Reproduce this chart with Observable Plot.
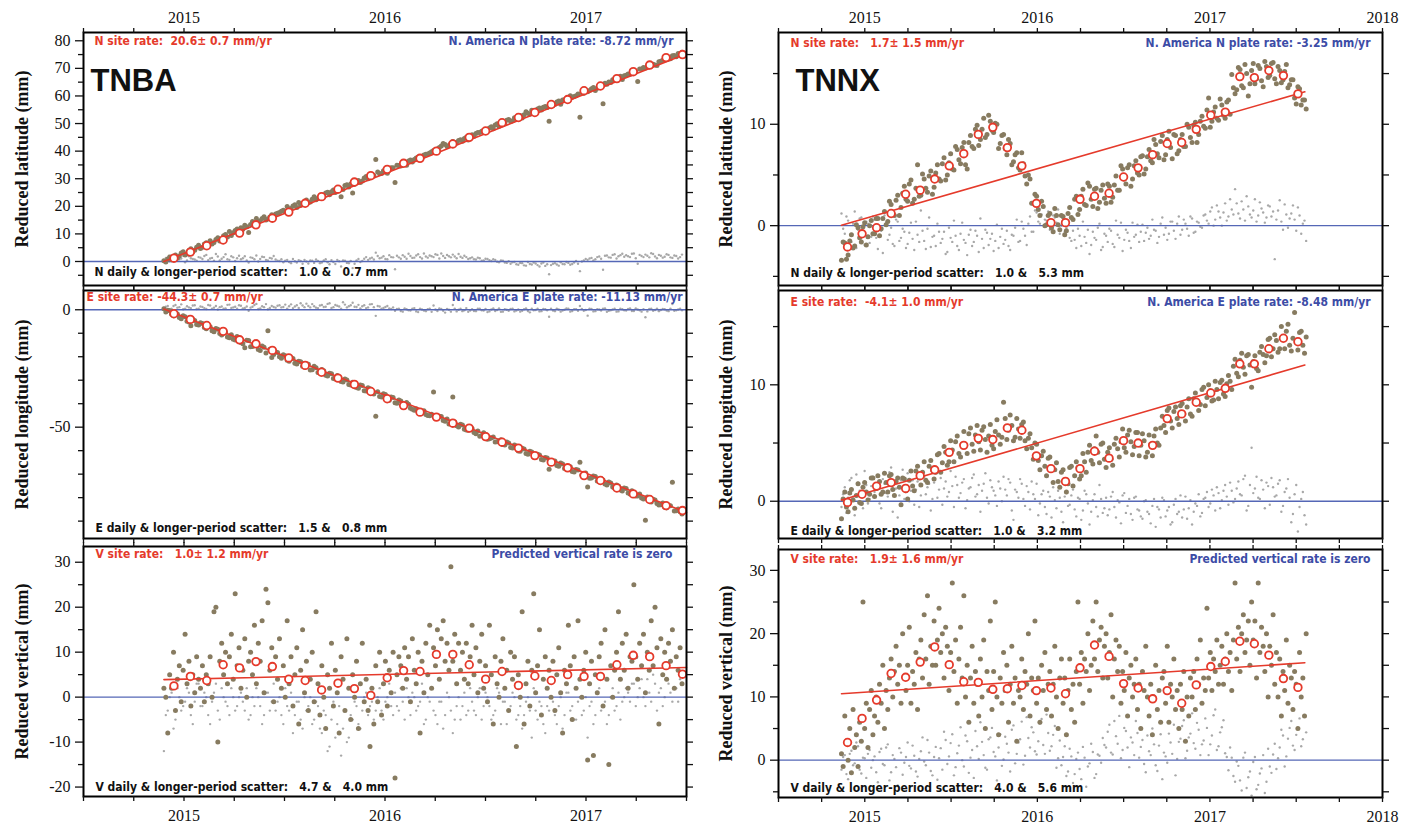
<!DOCTYPE html>
<html><head><meta charset="utf-8">
<script src="https://cdn.jsdelivr.net/npm/d3@7"></script>
<script src="https://cdn.jsdelivr.net/npm/@observablehq/plot@0.6"></script>
<style>
html,body{margin:0;padding:0;background:#fff;}
#wrap{position:relative;width:1406px;height:829px;background:#fff;overflow:hidden;}
#wrap svg{position:absolute;left:0;top:0;}
svg text{white-space:pre;}
</style></head><body><div id="wrap"></div>
<script>
// ---------------- DATA ----------------
// Station TNBA (left column). Brown: daily positions sampled twice a week (two offset weekly lists); grey: residual scatter.
const TNBA_start = 2014.90;
const TNBA_N_brown = [0.3,0.9,0.6,2.4,2.0,3.5,2.8,4.6,4.1,5.9, 5.2,6.8,7.5,6.9,8.6,8.0,9.8,10.9,10.4,11.8, 12.2,13.1,10.5,14.5,15.6,14.8,16.2,15.4,16.9,17.2, 17.8,18.6,19.9,19.2,20.6,21.4,20.9,22.3,21.6,23.5, 22.9,24.1,24.8,24.2,25.9,26.4,23.5,27.5,27.0,24.8, 29.1,28.6,30.3,30.0,31.4,37.0,31.8,32.9,32.0,34.0, 28.6,34.8,35.6,34.9,36.8,37.0,37.9,37.6,38.9,39.3, 40.2,40.8,41.9,42.4,42.0,43.5,43.2,44.1,44.6,44.0, 45.9,46.4,46.8,47.6,47.2,48.8,49.5,49.0,50.6,51.2, 50.7,52.1,51.6,52.0,54.3,53.4,54.1,55.3,54.9,56.2, 50.8,56.5,57.8,57.0,58.6,59.2,59.5,60.1,52.3,61.0, 61.5,62.6,62.0,63.1,57.2,64.2,64.9,65.6,66.3,66.0, 67.5,67.9,68.6,65.2,69.8,70.1,70.6,71.5,71.0,72.6, 73.1,73.4,74.6,74.2,75.3];
const TNBA_N_brown2 = [-0.2,1.6,1.0,1.3,3.1,2.4,4.0,3.5,5.2,4.7, 6.3,5.9,6.3,8.0,7.4,9.3,8.9,9.4,11.2,10.6, 11.7,12.6,13.4,13.0,14.3,15.6,15.0,16.1,16.3,17.5, 18.2,18.0,19.0,20.1,19.6,20.4,21.7,21.3,22.6,22.4, 23.6,23.4,25.1,25.3,25.0,26.6,26.1,27.8,28.1,28.0, 29.4,29.2,30.8,30.6,31.2,32.4,31.9,33.2,33.6,34.0, 34.9,34.6,35.9,36.4,36.1,37.5,37.2,38.6,39.0,39.8, 40.5,41.3,42.8,41.7,42.9,42.6,43.9,43.6,45.0,45.2, 45.4,46.8,47.2,47.1,48.4,48.1,49.9,50.1,50.0,51.5, 51.0,51.8,52.9,53.2,53.7,54.8,54.4,55.6,55.9,55.8, 57.2,57.0,58.2,58.5,59.0,60.1,59.8,60.7,61.2,61.9, 62.0,63.1,62.8,64.0,64.6,65.1,65.9,66.0,67.1,67.3, 68.0,68.9,68.7,69.8,70.3,70.6,71.4,71.2,72.4,72.9, 73.8,73.5,74.7,75.4,75.8];
const TNBA_N_grey = [0.5,1.0,0.2,1.4,0.8,2.1,0.4,1.2,0.7,1.6, 0.9,2.4,1.1,0.3,1.8,1.0,2.6,0.6,1.5,1.2, 0.8,1.9,-0.4,1.3,2.2,0.9,1.6,0.4,1.1,0.7, 0.2,-0.3,0.6,-0.6,0.1,0.5,-0.8,0.0,0.4,-0.5, 0.2,-0.4,0.8,-1.0,-0.2,0.6,-1.8,0.3,-0.6,-2.4, 0.4,-0.2,1.0,0.6,1.4,3.2,1.2,1.9,0.8,1.6, -2.8,1.5,2.3,1.0,2.0,1.4,2.6,1.1,1.8,2.2, 1.6,2.4,2.9,1.3,1.9,2.5,1.2,1.7,2.1,0.9, 1.5,0.7,1.2,0.4,0.9,0.2,0.6,-0.3,0.3,-0.5, -0.8,-0.2,-1.2,-0.6,-1.5,-0.9,-0.4,-1.3,-0.7,-1.6, -4.6,-0.8,-1.1,-0.3,-1.0,-0.5,-0.9,0.2,-3.5,0.4, 0.6,1.3,0.8,1.8,-3.0,2.2,1.4,2.6,1.9,2.8, 2.3,1.6,2.9,-0.8,2.0,2.5,1.5,2.7,1.2,2.1, 1.7,2.4,1.3,2.0,1.6];
const TNBA_N_grey2 = [1.3,0.1,1.8,0.6,1.1,-0.3,1.9,0.9,0.3,1.4, 2.0,0.5,1.3,2.7,0.4,1.6,0.8,1.9,0.2,2.1, 1.2,0.4,1.5,0.8,0.0,1.7,0.6,1.3,2.0,0.3, 0.8,0.3,-0.2,0.9,-0.4,0.2,0.6,-0.7,0.3,0.7, -0.6,0.4,-0.3,0.5,-0.9,0.1,0.4,-0.5,0.2,-0.8, 0.9,0.2,1.6,1.1,0.7,2.0,1.4,0.9,2.3,1.5, 2.1,1.0,1.7,2.8,1.3,2.2,1.6,2.9,1.4,1.9, 2.6,1.1,2.0,2.4,1.5,1.8,2.7,1.3,1.6,1.2, 0.8,1.4,0.3,1.0,0.5,0.8,-0.1,0.4,-0.4,0.1, -0.3,-1.0,-0.5,-1.4,-0.2,-1.1,-0.7,-1.8,-0.4,-1.0, -1.3,-0.6,-1.5,-0.9,-0.2,-1.2,-0.4,-0.8,0.0,0.9, 1.1,0.4,1.6,1.0,2.1,1.5,2.4,1.1,2.3,1.7, 1.9,2.8,1.2,2.4,1.6,2.1,3.0,1.8,2.4,1.4, 2.6,1.5,2.2,1.1,2.5];
const TNBA_N_monthly = [1.2,3.4,5.7,7.8,10.3,13.3,15.7,17.9,21.1,23.5,26.2,28.8,31.1,33.4,35.6,37.4,40.0,42.6,45.0,47.3,50.3,52.2,54.0,56.9,58.7,61.9,63.6,66.3,68.8,71.2,73.9,75.0];
const TNBA_N_fit = [0.0, 75.3];

const TNBA_E_brown = [0.4,-0.2,-1.9,-1.2,-3.3,-2.6,-4.9,-6.8,-4.6,-6.5, -5.8,-8.1,-7.2,-9.4,-8.3,-10.8,-9.6,-11.9,-12.6,-11.4, -13.9,-16.2,-13.1,-15.6,-14.6,-17.3,-16.0,-8.9,-20.3,-17.9, -20.0,-19.2,-21.5,-20.4,-22.8,-21.9,-24.1,-23.0,-25.6,-24.1, -26.7,-25.4,-27.9,-27.0,-29.3,-28.0,-30.6,-29.5,-31.8,-30.9, -33.1,-32.0,-34.5,-33.2,-35.4,-45.3,-36.9,-35.8,-38.2,-37.1, -39.6,-38.4,-40.7,-39.5,-41.9,-42.8,-43.4,-43.9,-44.6,-45.1, -35.0,-46.2,-45.4,-47.5,-48.6,-37.2,-49.4,-48.8,-50.9,-51.3, -50.6,-52.8,-53.9,-52.4,-55.1,-54.6,-56.3,-55.8,-57.4,-56.3, -58.7,-57.6,-60.1,-59.0,-61.2,-60.3,-62.7,-61.5,-63.8,-62.9, -67.9,-65.0,-66.3,-65.2,-67.6,-66.8,-68.9,-68.0,-64.9,-70.8, -75.5,-71.6,-71.0,-73.2,-72.5,-74.6,-73.8,-75.9,-75.0,-77.2, -76.1,-78.4,-77.9,-79.3,-80.2,-89.6,-81.1,-80.7,-82.5,-83.0, -84.1,-83.4,-73.5,-85.6,-86.0];
const TNBA_E_brown2 = [-1.0,-0.4,-2.5,-1.8,-3.8,-3.0,-5.2,-4.1,-6.3,-5.5, -7.6,-6.8,-8.9,-8.0,-10.1,-9.3,-11.6,-10.6,-12.9,-12.0, -14.5,-13.0,-15.8,-14.2,-16.9,-15.4,-18.4,-16.8,-19.1,-18.2, -20.6,-19.6,-21.9,-20.8,-23.1,-22.1,-24.4,-23.2,-25.5,-24.7, -26.9,-26.0,-28.2,-27.3,-29.5,-28.6,-30.8,-29.9,-32.0,-31.1, -33.4,-32.3,-34.6,-33.6,-35.9,-34.9,-37.2,-36.1,-38.5,-37.4, -39.8,-38.8,-41.0,-40.2,-42.4,-42.1,-43.6,-43.0,-45.0,-44.5, -45.8,-45.3,-47.2,-46.5,-48.3,-47.8,-49.9,-49.1,-51.2,-50.3, -52.3,-51.6,-53.5,-53.0,-54.9,-54.2,-56.2,-55.4,-57.6,-56.7, -58.9,-58.0,-60.2,-59.3,-61.5,-60.6,-62.8,-61.8,-64.0,-63.1, -65.2,-64.4,-66.6,-65.7,-67.8,-66.9,-69.1,-68.2,-70.4,-69.5, -71.7,-70.8,-72.9,-72.0,-74.2,-73.3,-75.5,-74.6,-76.8,-75.9, -78.0,-77.1,-79.3,-78.4,-80.6,-79.7,-81.9,-81.0,-83.1,-82.3, -84.4,-83.5,-85.7,-84.8,-87.0];
const TNBA_E_grey = [0.8,1.6,0.4,2.0,1.1,0.2,1.5,0.7,1.9,0.5, 1.2,0.3,1.8,0.9,0.1,1.4,0.6,2.2,1.0,0.4, 1.7,0.8,-0.4,1.3,2.5,0.6,1.1,0.2,1.6,0.9, 1.9,1.2,0.5,2.3,1.4,0.8,1.8,2.6,1.0,1.5, 0.7,2.0,1.3,2.8,1.1,1.7,0.4,2.2,1.5,3.0, 1.2,0.6,1.9,1.0,2.4,-2.6,1.4,0.8,1.6,0.3, -0.4,0.5,-0.8,0.2,-0.3,0.7,-1.0,0.1,-0.6,0.4, 1.8,-0.5,0.3,-1.2,0.0,2.0,-0.7,0.4,-0.2,-0.9, 0.2,-0.6,0.5,-0.3,-1.0,0.1,-0.5,0.6,-0.8,0.0, 0.3,-0.7,0.1,-0.4,0.6,-1.1,-0.2,0.4,-0.6,0.2, -3.0,-0.3,0.5,-0.8,0.0,0.4,-0.5,0.2,1.6,-0.4, -2.5,0.3,-0.6,0.1,0.5,-0.9,-0.2,0.4,-0.7,0.2, -0.3,0.6,-0.5,0.1,-0.8,-3.2,0.3,-0.4,0.5,-0.1, 0.2,-0.6,2.4,-0.2,0.4];
const TNBA_E_grey2 = [1.3,0.2,1.6,0.9,2.3,0.5,1.0,1.8,0.3,1.4, 0.7,2.0,0.5,1.6,1.1,0.4,2.1,0.8,1.3,1.9, 0.6,1.4,0.9,2.0,0.3,1.5,2.4,0.8,1.2,1.7, 1.0,2.2,1.5,0.7,1.9,2.8,1.1,1.6,2.4,0.9, 1.8,1.2,2.5,0.8,2.0,1.4,3.2,1.0,1.9,1.3, 2.1,1.5,0.7,2.3,1.1,1.6,0.4,1.2,0.6,1.0, 0.3,-0.5,0.6,-0.2,0.4,-0.7,0.5,-0.3,0.2,-0.9, 0.1,0.6,-0.4,0.3,-0.8,0.5,0.0,-0.6,0.7,-0.3, -0.5,0.4,-0.2,0.3,-0.7,0.6,-0.1,-0.9,0.2,-0.4, 0.5,-0.3,-0.8,0.2,-0.5,0.4,-0.1,-0.7,0.3,-0.2, 0.4,-0.6,0.1,-0.3,0.6,-0.8,0.2,-0.4,0.3,-0.1, 0.5,-0.7,0.2,-0.3,0.6,-0.4,0.1,-0.8,0.4,-0.2, 0.3,-0.5,0.6,-0.2,0.2,-0.7,0.5,-0.1,-0.6,0.3, -0.3,0.5,-0.4,0.1,-0.2];
const TNBA_E_monthly = [-1.7,-4.1,-6.7,-9.2,-12.8,-14.5,-17.3,-20.5,-23.7,-26.6,-29.1,-31.8,-34.8,-37.9,-40.8,-43.6,-45.7,-48.3,-50.4,-54.0,-56.4,-58.9,-62.1,-64.9,-67.3,-70.6,-72.7,-75.9,-78.4,-80.8,-83.4,-85.5];
const TNBA_E_fit = [0.3, -86.3];

// vertical: two samples per week
const TNBA_V_brown = [2,
 0,-8,5,2,10,-3,4,7,-1, 6,14,3,8,-2,5,1,9,4, 2,7,-1,5,3,9,0,19,
 20,-10,8,12,5,10,3,9,14, 4,23,7,11,2,6,13,0,8, 10,5,16,3,12,8,17,1,
 24,21,6,11,-1,9,4,13,2, 7,0,17,3,9,-2,5,11,-6, 6,15,1,8,-3,4,10,-1,
 19,3,-4,7,0,-7,5,2,12, -2,6,1,-8,9,4,-3,13,2, -5,5,0,8,-7,3,12,-1,
 4,-3,-11,2,-6,7,-1,10,-4, 3,8,-2,6,1,10,-18,5,9, 7,2,11,4,9,-1,13,6,
 3,10,-8,8,1,12,5,16,2, 11,7,15,4,13,17,8,12,6, 29,8,14,3,12,6,10,4,
 12,3,9,16,5,11,1,8,14, 2,7,-1,16,5,-6,9,3,0, 8,13,2,6,-3,10,4,9,
 -11,5,0,19,-6,3,8,-2,6, 23,1,7,15,-4,4,9,2,6, 0,8,-3,5,11,1,-8,6,
 3,16,7,-5,9,2,17,4,0, 6,10,-14,3,8,-13,5,1,9, 12,-2,15,4,-15,7,0,6,
 10,19,4,12,6,14,2,9,8, 25,9,4,12,7,14,1,10,6, 17,7,20,11,-6,13,5,10,
 4,12,8,15,2,9,6,11,3];
const TNBA_V_grey = [-12,-3,1,-5,0,-2,2,-4,-1,3, -2,0,-6,1,-3,2,-1,-4,0,-2, 1,-3,-5,0,2,-2,-4,1,-1,-3, 0,-6,-2,1,-4,-1,-7,-3,0,-5, -2,-8,-4,-11,-1,-6,-13,-3,-9,-5, -2,-7,0,-4,-1,-3,2,-5,0,-2, 1,-3,-1,2,-4,0,-2,3,-5,-1, -3,-6,-1,-4,0,-8,-2,-5,1,-3, -1,-4,2,-2,0,-5,-3,1,-1,-6, -2,0,-4,-7,-1,-3,2,-5,-2,-8, -3,-1,-6,0,-4,1,-2,-5,0,-3, -9,-1,-4,2,-2,-6,0,-3,1,-1, 2,-1,3,0,4,-2,1,5,-3,2, 0,3,-1,2,4];
const TNBA_V_grey2 = [-4,0,-7,2,-3,-1,1,-6,3,-2, 1,-4,-1,3,-5,0,-2,2,-3,0, -1,2,-4,-2,0,-6,1,-3,3,-1, -4,2,-3,-8,-1,-5,0,-2,-6,-1, -7,-3,-12,-5,-9,-2,-7,-10,-4,-1, -6,-3,1,-2,-5,0,-3,-1,3,-4, -2,2,-5,0,1,-3,-1,-6,0,2, -4,-1,-7,1,-3,-5,0,-2,-4,2, -3,0,-5,1,-2,-4,2,-6,-1,-3, 1,-5,-2,-4,0,-9,-3,-1,-6,-2, 0,-4,-2,-7,1,-3,-5,-1,-4,0, -2,-6,1,-3,-1,-4,2,-2,-5,0, 1,3,-2,2,0,4,-1,3,1,-2, 4,1,2,-1,3];
const TNBA_V_monthly = [2.5,4.6,3.7,7.2,6.5,7.9,6.8,4.0,3.7,1.6,3.1,1.9,0.4,4.3,5.9,5.7,9.5,9.5,7.2,4.0,5.7,2.6,4.7,3.7,5.0,4.6,4.6,7.2,9.3,9.0,7.0,5.1];
const TNBA_V_fit = [3.9, 6.6];

// Station TNNX (right column)
const TNNX_start = 2014.865;
const TNNX_N_brown = [-3.4,-1.7,-2.9,-0.9,-2.0,-0.2,-1.6,0.3,-1.1,0.5, -0.8,0.7,-0.3,1.4,0.4,2.1,1.0,3.0,1.8,3.9, 2.4,4.5,2.6,6.0,3.0,4.6,3.3,5.4,3.8,6.0, 4.4,6.7,5.0,7.1,5.5,7.5,6.1,8.2,5.6,8.9, 7.6,9.9,8.5,10.6,9.0,10.3,9.2,10.0,8.1,9.0, 7.0,8.1,6.3,7.2,5.5,6.1,4.1,4.6,2.2,2.9, 1.0,1.9,0.1,1.2,-0.6,1.0,-0.4,0.9,-0.5,1.8, 0.6,2.9,1.6,3.6,2.0,3.9,1.9,3.7,2.3,4.0, 2.2,3.9,2.8,4.9,3.5,5.6,4.1,6.0,4.6,6.4, 5.0,6.9,5.6,7.5,6.2,8.0,6.7,8.9,7.0,9.3, 6.6,8.9,7.4,9.0,7.8,9.7,8.2,10.2,9.0,10.8, 9.6,12.6,10.3,11.7,10.4,11.9,10.6,12.4,14.9,13.0, 15.6,13.8,15.9,12.8,15.3,14.0,15.8,14.3,16.2,14.6, 16.0,14.5,15.7,14.1,15.2,13.6,14.4,12.6,13.7,11.9, 12.4];
const TNNX_N_brown2 = [-1.6,-3.3,-1.5,-2.2,0.1,-1.2,-0.1,-1.9,0.0,-0.8, 0.7,-1.0,0.7,0.1,2.4,1.2,2.5,1.0,3.2,2.6, 4.1,2.2,3.7,2.9,5.1,3.7,4.9,3.1,5.2,4.6, 6.1,4.5,6.2,5.6,7.8,6.5,7.7,6.0,8.2,7.8, 9.5,7.9,9.5,8.7,10.9,9.4,10.1,7.6,8.9,7.6, 8.5,6.0,7.0,5.7,7.2,4.9,5.0,2.2,3.1,1.6, 2.4,0.0,1.0,-0.2,1.7,0.1,1.0,-0.9,1.2,0.8, 2.6,1.1,2.9,2.1,4.2,2.6,3.6,1.7,3.5,2.7, 4.1,2.3,4.0,3.5,5.9,4.6,5.7,3.9,5.9,5.2, 6.8,5.1,6.8,6.4,8.5,7.1,8.3,6.5,8.5,7.7, 9.0,7.1,8.5,7.8,10.0,8.7,9.9,8.2,10.3,9.8, 11.4,9.7,11.2,10.6,12.5,10.9,12.2,11.0,13.6,13.4, 15.4,13.6,15.0,14.0,16.0,14.5,15.5,13.7,15.7,14.8, 16.1,14.0,15.3,14.4,15.9,13.9,14.4,12.0,13.5,12.4, 11.5];
const TNNX_N_grey = [1.2,-0.8,0.5,-1.6,1.4,-0.4,0.8,-1.9,0.2,-1.1, 0.6,-2.3,-0.5,1.0,-1.4,-0.2,-2.0,0.4,-1.2,-0.6, -1.8,0.3,-2.4,-0.9,1.5,-1.5,-0.3,-2.1,-1.0,0.2, -1.7,-0.6,-2.6,-1.2,0.5,-2.0,-0.8,-1.4,-2.9,-0.4, -1.6,-1.0,0.7,-2.2,-0.7,-1.3,-2.5,0.1,-1.1,-1.8, -0.5,-2.4,-1.0,0.6,-1.5,-0.3,-1.9,0.9,-0.6,1.3, 0.2,1.8,0.5,-0.4,1.0,0.3,-0.8,0.7,-0.2,-1.2, -0.5,-2.2,-1.0,0.4,-1.7,-2.8,-0.6,-1.4,0.2,-2.1, -1.0,-0.3,-1.8,0.5,-1.2,-2.5,-0.4,-1.5,0.3,-0.9, -1.6,0.1,-0.7,-1.3,0.6,-0.5,-1.1,0.8,-0.2,-0.8, 0.4,-1.3,0.9,-0.4,0.2,-1.0,0.7,-0.6,0.3,-0.2, 1.1,0.2,1.8,0.6,1.4,0.0,2.2,0.9,1.6,3.6, 1.2,2.4,0.5,1.9,0.8,2.6,1.0,1.7,0.3,2.0, 0.9,-3.3,1.5,0.4,2.1,-0.2,1.2,0.6,1.8,-0.8, 0.5];
const TNNX_N_grey2 = [-0.3,0.9,-1.4,0.2,-2.2,0.7,-0.9,0.4,-1.7,0.9, -1.2,-0.1,-2.7,0.3,-0.9,-1.8,0.6,-1.5,-0.3,-2.2, -0.7,-1.3,0.4,-1.6,-0.5,-2.3,0.8,-1.1,-2.0,-0.6, -1.3,-2.8,-0.2,-1.6,-1.0,-2.4,0.3,-1.7,-0.9,-2.0, -0.5,-2.6,-1.3,-0.4,-1.9,-0.8,-1.5,-2.2,-0.3,-1.4, -2.0,-0.9,-0.2,-1.6,0.4,-1.0,0.2,-0.6,1.5,0.4, 1.1,0.6,1.4,-0.3,0.8,1.6,0.0,-0.6,0.5,-1.5, -1.4,-0.3,-2.0,-1.1,-0.4,-1.9,-1.2,-0.2,-2.4,-0.8, -1.6,-0.5,-2.1,-0.9,0.3,-1.4,-0.7,-2.2,-1.1,0.1, -0.6,-1.5,-0.2,-1.0,-0.4,-1.7,0.2,-0.9,-1.4,0.4, -0.5,0.2,-0.9,0.6,-0.3,0.9,-0.7,0.4,-0.1,1.0, 0.5,1.4,0.0,2.0,0.8,1.3,0.5,2.6,1.1,2.2, 0.7,1.6,2.9,1.1,1.5,0.4,2.3,1.3,0.8,1.9, 1.4,0.6,2.5,-0.4,1.1,0.7,2.0,-0.5,1.0,0.2, -1.5];
const TNNX_N_monthly = [-2.1,-0.8,-0.2,1.2,3.1,3.5,4.6,5.9,7.1,9.0,9.7,7.7,5.9,2.2,0.3,0.3,2.6,2.9,3.2,4.8,5.7,7.0,8.1,8.2,9.5,10.9,11.2,14.7,14.6,15.3,14.8,13.0];
const TNNX_N_fit = [0.05, 13.2];

const TNNX_E_brown = [-1.5,0.8,-0.9,1.0,-0.6,1.5,-0.2,1.6,0.1,2.0, 0.4,2.2,0.6,2.4,0.8,2.3,0.5,2.0,-0.3,1.9, 0.2,2.6,0.9,3.0,1.4,3.4,1.6,3.5,1.9,4.0, 2.5,4.7,3.1,5.2,3.4,5.6,3.8,6.0,4.1,6.3, 4.3,6.5,4.4,6.4,4.2,6.6,4.5,7.0,4.9,8.5, 5.3,7.4,5.2,7.1,5.4,6.8,4.5,5.8,3.6,4.9, 2.7,4.3,2.2,3.8,1.6,3.3,1.2,2.7,0.8,2.9, 1.3,3.4,1.9,4.1,2.5,4.8,3.2,5.6,3.3,5.0, 2.9,4.6,3.1,5.4,3.8,6.2,4.2,6.1,4.0,5.9, 3.9,5.8,3.8,5.7,3.9,6.2,4.8,7.3,5.9,8.0, 6.3,8.1,6.6,8.4,6.9,8.8,7.3,9.3,7.8,9.6, 8.2,10.0,8.6,10.3,8.8,10.4,9.0,10.8,9.6,12.2, 10.7,12.7,10.9,12.6,9.8,12.5,11.2,13.3,11.9,13.9, 12.4,14.3,12.8,15.0,13.1,15.2,12.9,16.2,13.0,14.6, 12.7];
const TNNX_E_brown2 = [0.2,-0.5,0.7,0.1,0.5,-0.1,1.2,0.8,0.6,2.0, 1.1,1.7,0.8,1.6,2.2,1.0,1.7,1.2,2.0,0.9, 1.8,1.3,2.6,2.0,2.5,1.8,3.0,2.7,2.5,4.1, 3.3,4.2,3.4,4.4,5.1,4.1,4.9,4.8,5.8,4.9, 5.7,5.1,6.1,5.3,5.6,4.8,6.0,5.7,5.5,7.1, 6.1,6.5,5.5,6.2,6.6,5.2,5.4,4.6,5.0,3.5, 3.9,3.0,3.7,2.7,2.7,1.7,2.5,1.8,1.5,3.0, 2.2,2.9,2.2,3.4,4.2,3.5,4.5,4.2,4.9,3.6, 4.2,3.6,4.9,4.5,5.1,4.6,5.7,5.1,4.7,5.9, 4.8,5.2,4.2,4.9,5.6,5.0,6.3,6.5,7.8,6.9, 7.7,7.1,8.2,7.5,8.1,7.5,8.8,8.5,8.3,9.8, 8.9,9.5,8.7,9.6,10.2,9.2,10.1,10.3,11.6,11.0, 12.1,11.5,12.5,11.7,12.0,11.4,12.8,12.6,12.5,14.0, 13.1,13.8,13.1,14.1,14.6,13.4,14.0,13.7,14.5,13.4, 14.1];
const TNNX_E_grey = [-0.5,1.2,0.3,2.0,-1.2,1.6,0.6,2.6,-0.2,1.3, 0.8,2.2,-0.6,1.5,0.4,2.9,1.0,-1.4,1.8,0.2, 2.4,0.9,-0.3,1.7,0.5,2.1,1.2,-0.8,1.6,0.3, 2.0,1.1,0.4,2.6,-0.5,1.4,0.7,1.9,0.1,1.2, 2.3,0.6,-0.9,1.5,0.3,1.8,0.9,-0.4,1.1,2.1, 0.5,1.6,-1.6,0.8,1.9,0.2,1.3,-0.7,0.6,1.5, -0.2,0.9,-1.1,0.4,1.2,-0.6,0.3,-1.8,0.7,-0.3, 1.0,-1.3,0.2,-0.8,0.6,-2.0,0.1,-0.5,1.4,-1.0, 0.3,-0.7,0.8,-1.4,-0.1,0.5,-1.0,0.2,-1.6,0.4, -0.8,-1.5,0.1,-1.1,-0.4,-2.2,-0.7,0.3,-1.3,-0.5, -1.8,0.2,-0.9,-1.4,0.4,-0.6,-2.0,-0.2,0.6,-1.0, 0.3,-0.5,1.0,-0.8,0.7,0.1,1.4,-0.3,0.9,0.2, 1.7,0.5,2.2,-0.4,4.6,1.1,0.3,1.8,-0.6,1.3, 2.0,0.4,1.5,-0.9,0.8,1.9,-1.8,0.6,-2.6,0.2, -1.2];
const TNNX_E_grey2 = [0.6,-1.0,1.8,0.4,2.3,0.9,-0.6,1.4,0.2,2.1, 1.5,-0.2,1.9,0.7,2.5,-0.9,1.1,0.5,2.7,1.3, 0.0,1.8,1.0,-0.5,2.2,0.6,1.5,0.2,2.4,1.0, -0.3,1.7,0.8,1.3,2.1,0.3,1.6,-0.6,1.1,2.0, 0.4,1.4,0.9,2.4,-0.2,1.2,0.5,1.7,0.0,1.0, 1.9,-0.8,1.0,0.3,1.5,-0.4,0.8,1.7,0.2,-1.2, 0.6,-0.5,0.8,-1.4,0.1,0.9,-0.9,0.4,-0.4,0.5, -0.7,0.3,-1.6,0.9,-0.2,-0.9,0.6,-1.3,0.2,-0.6, -1.2,0.4,-0.5,0.1,-1.9,0.7,-0.4,-1.1,0.3,-0.7, -1.3,0.0,-0.9,-1.9,0.2,-0.5,-1.4,0.1,-0.8,-2.0, -0.3,-1.1,0.5,-0.7,-1.5,0.1,-0.9,-0.4,-1.3,0.2, 0.8,-0.2,0.5,1.2,-0.6,0.9,0.4,1.6,-0.1,1.1, 0.6,1.9,-0.8,1.4,0.7,2.1,0.2,1.0,1.6,-0.3, 1.2,0.5,1.8,-0.4,1.1,0.3,-1.1,1.4,-0.5,0.8, -2.0];
const TNNX_E_monthly = [-0.1,0.6,1.3,1.6,1.1,2.2,2.7,4.2,4.8,5.4,5.3,6.3,6.1,3.9,2.8,1.7,2.8,4.3,3.7,5.2,5.0,4.8,7.1,7.5,8.5,9.3,9.7,11.8,11.8,13.1,14.0,13.7];
const TNNX_E_fit = [0.1, 11.7];

const TNNX_V_brown = [1,-1,7,3,
 0,5,-2,8,2,4,-1,6,3, 25,5,9,2,8,11,4,7,10, 6,12,9,15,5,11,8,13,
 16,10,14,18,12,15,9,20,13, 11,15,21,9,14,12,17,8,16, 19,13,23,16,26,12,18,15,
 22,15,19,24,17,20,13,21,18, 11,17,28,14,19,9,16,21,13, 26,10,15,6,13,18,9,14,
 12,7,16,10,19,5,14,11,22, 8,14,25,10,4,13,9,17,11, 15,6,12,18,9,13,3,11,
 10,16,8,14,12,20,7,13,11, 22,9,13,6,15,11,17,8,12, 14,7,12,18,10,5,13,16,
 9,13,4,11,16,8,12,6,14, 25,12,17,9,16,14,20,11,15, 22,16,25,14,19,21,13,18,
 20,13,17,23,10,16,19,14,18, 9,14,11,17,7,13,15,10,12, 16,8,12,5,14,11,18,10,
 7,12,4,10,15,8,11,6,13, 14,9,18,6,12,10,16,8,11, 5,12,8,14,3,10,7,13,
 10,14,8,16,12,19,9,13,11, 24,13,17,11,16,14,19,12,15, 18,12,16,20,14,17,11,19,
 28,16,21,14,20,23,17,19,22, 15,25,19,22,13,28,17,21,18, 14,20,10,18,15,23,12,17,
 10,16,7,14,11,19,9,15,13, 8,14,12,5,17,10,13,7,20];
const TNNX_V_grey = [-1.5,0.8,-3.0,1.5,-0.5,2.2,-2.1,0.3,1.0,-1.2, 0.6,-3.5,1.8,-0.8,2.5,-1.9,0.2,-4.0,1.2,-0.4, 2.8,-1.3,0.7,-2.6,1.4,-0.2,3.2,-1.7,0.5,-3.1, 1.9,4.5,-0.6,2.7,-2.4,1.1,5.2,-1.0,3.0,0.4, -2.8,2.2,6.0,0.8,-1.5,3.6,1.3,-3.2,4.1,0.1, 2.6,-1.8,5.5,1.0,3.3,-0.7,6.8,2.0,4.4,0.9, 5.8,2.4,7.2,1.5,4.0,-1.2,3.1,0.5,-2.5,1.8, -3.6,0.2,-1.4,2.1,-4.2,-0.5,1.3,-2.2,0.7,3.5, 2.0,5.6,0.9,3.8,7.0,1.6,4.6,-1.1,2.8,6.2, 0.4,3.2,-1.9,1.4,5.0,-0.8,2.3,-3.0,0.6,4.2, 1.0,-2.4,2.9,5.4,0.3,3.6,7.4,1.8,4.8,2.5, 6.6,0.8,3.9,8.0,2.2,5.2,1.1,-1.6,0.4,-3.4, -0.9,-4.8,1.2,-2.7,-5.6,0.5,-3.9,-1.3,-5.2,1.8, -2.0,2.6,0.3,4.8,-1.0,3.4,6.2,1.6,5.0,2.2, 7.0];
const TNNX_V_grey2 = [0.5,-2.2,1.0,-0.8,2.8,-1.5,0.4,-2.8,1.6,0.0, -1.9,1.3,-0.6,2.0,-3.2,0.8,-1.1,1.9,-2.3,0.5, -0.9,2.3,-1.8,0.2,3.6,-0.8,1.2,-2.4,2.1,0.3, -1.5,3.2,0.6,4.1,-1.1,2.3,0.0,3.9,-2.0,1.6, 4.6,0.2,2.9,-1.2,3.3,5.1,0.6,2.0,-0.9,3.7, 1.2,4.8,-0.5,2.8,6.1,0.7,3.5,5.2,1.4,3.0, 6.5,1.0,4.3,2.2,5.4,0.3,-0.8,2.2,-1.8,0.6, -2.2,1.2,-3.0,0.4,-1.0,2.6,-2.8,0.9,-0.4,2.4, 4.5,1.2,6.2,2.6,0.3,5.1,2.0,3.6,0.8,4.3, 2.1,-0.6,3.9,0.8,2.5,-1.7,4.1,1.2,-0.4,2.8, 5.6,0.2,3.4,6.3,1.5,4.2,2.7,5.9,0.8,3.1, 5.1,2.5,7.1,1.6,4.4,6.3,0.5,2.0,-2.5,-0.2, -3.2,0.4,-4.4,-1.8,-0.3,-4.6,-2.1,0.8,-3.4,-1.0, 0.9,-1.4,2.0,3.9,0.6,5.1,2.3,4.0,6.6,3.3, 4.4];
const TNNX_V_monthly = [2.8,6.6,9.5,13.7,13.1,15.5,17.9,15.1,12.4,12.3,11.2,11.3,11.8,11.0,11.4,10.5,14.6,18.2,16.4,12.1,11.4,9.7,11.0,9.0,11.9,14.8,15.6,18.8,18.4,16.6,12.9,11.5];
const TNNX_V_fit = [10.5, 15.4];

// ---------------- RENDER ----------------
const RED = "#e53a2b", BLUE = "#3c4ca6", BROWN = "#877b60", GREY = "#a8a8a8", ZERO = "#5567b6";
const SANS_N = "DejaVu Sans Condensed, Liberation Sans Narrow, Liberation Sans, Arial, sans-serif";
const SERIF = "Liberation Serif, DejaVu Serif, Times New Roman, serif";
const series = (t0, days, vals) => vals.map((v, i) => ({t: t0 + i * days / 365.25, v}));
const monthly = (t0, t1, vals) => vals.map((v, i) => ({t: t0 + i * (t1 - t0) / (vals.length - 1), v}));
const fitLine = (t0, t1, f) => [{t: t0, v: f[0]}, {t: t1, v: f[1]}];

function panel(p) {
  const xq = d3.range(p.xd[0], p.xd[1] + 1e-6, 0.25);
  const years = d3.range(Math.ceil(p.xd[0]), Math.floor(p.xd[1]) + 1);
  const m = [
    Plot.dot(p.grey, {x: "t", y: "v", r: 1.2, fill: GREY, clip: true}),
    Plot.ruleY([0], {stroke: ZERO, strokeWidth: 1.4}),
    Plot.dot(p.brown, {x: "t", y: "v", r: 2.5, fill: BROWN, clip: true}),
    Plot.line(p.fit, {x: "t", y: "v", stroke: RED, strokeWidth: 1.6}),
    Plot.dot(p.mon, {x: "t", y: "v", r: 3.8, fill: "white", stroke: RED, strokeWidth: 1.8, clip: true}),
    Plot.frame({stroke: "black", strokeWidth: 2}),
    Plot.axisX({anchor: "top", ticks: xq, tickSize: 5, tickFormat: () => "", label: null, strokeWidth: 1.3}),
    Plot.axisX({anchor: "bottom", ticks: xq, tickSize: 5, tickFormat: () => "", label: null, strokeWidth: 1.3}),
    Plot.axisY({anchor: "left", ticks: p.yLab, tickSize: 8, tickPadding: 5, tickFormat: d => String(d), label: null, strokeWidth: 1.3, fontFamily: SERIF, fontSize: 16}),
    Plot.axisY({anchor: "left", ticks: p.yMinor, tickSize: 5, tickFormat: () => "", label: null, strokeWidth: 1.3}),
    Plot.axisY({anchor: "right", ticks: p.yLab.concat(p.yMinor), tickSize: 6, tickFormat: () => "", label: null, strokeWidth: 1.3}),
    Plot.text([p.ylabel], {frameAnchor: "left", text: d => d, rotate: -90, dx: p.ylDx, textAnchor: "middle", lineAnchor: "middle",
      fontFamily: SERIF, fontWeight: "bold", fontSize: 18, fill: "#111"}),
    Plot.text([p.red], {frameAnchor: "top-left", text: d => d, dx: p.t[0], dy: p.t[1], textAnchor: "start", lineAnchor: "middle",
      fontFamily: SANS_N, fontWeight: "bold", fontSize: 12, fill: RED}),
    Plot.text([p.blue], {frameAnchor: "top-right", text: d => d, dx: p.t[2], dy: p.t[3], textAnchor: "end", lineAnchor: "middle",
      fontFamily: SANS_N, fontWeight: "bold", fontSize: 12, fill: BLUE}),
    Plot.text([p.black], {frameAnchor: "bottom-left", text: d => d, dx: p.t[4], dy: p.t[5], textAnchor: "start", lineAnchor: "middle",
      fontFamily: SANS_N, fontWeight: "bold", fontSize: 12, fill: "#111"})
  ];
  if (p.top) m.push(Plot.axisX({anchor: "top", ticks: years, tickSize: 0, tickPadding: 10, tickFormat: d => String(d), label: null, fontFamily: SERIF, fontSize: 16}));
  if (p.bottom) m.push(Plot.axisX({anchor: "bottom", ticks: years, tickSize: 0, tickPadding: 13, tickFormat: d => String(d), label: null, fontFamily: SERIF, fontSize: 16}));
  if (p.station) m.push(Plot.text([p.station], {frameAnchor: "top-left", text: d => d, dx: p.stDx, dy: 36, textAnchor: "start", lineAnchor: "top",
      fontFamily: "Liberation Sans, Arial, sans-serif", fontWeight: "bold", fontSize: 31, fill: "#111"}));
  return Plot.plot({
    width: 1406, height: 829,
    marginLeft: p.box[0], marginRight: 1406 - p.box[1], marginTop: p.box[2], marginBottom: 829 - p.box[3],
    x: {domain: p.xd, axis: null, label: null},
    y: {domain: p.yd, axis: null, label: null},
    style: "background:none;font-family:" + SERIF + ";font-size:16px;color:#111;overflow:visible;",
    marks: m
  });
}

const LX = [2014.5, 2017.5], RX = [2014.5, 2018.0];
const LB = [83, 686], RB = [778, 1382];
const half = 3.5 / 365.25;
const two = (start, a, b) => series(start, 7, a).concat(series(start + half, 7, b));
const panels = [
  {xd: LX, box: [LB[0], LB[1], 32, 285], yd: [-8.7, 83.0], yLab: d3.range(0, 81, 10), yMinor: d3.range(-5, 80, 10),
   brown: two(TNBA_start, TNBA_N_brown, TNBA_N_brown2), grey: two(TNBA_start, TNBA_N_grey, TNBA_N_grey2),
   mon: monthly(2014.95, 2017.48, TNBA_N_monthly), fit: fitLine(2014.90, 2017.5, TNBA_N_fit),
   ylabel: "Reduced latitude (mm)", ylDx: -61, top: true, station: "TNBA", stDx: 7,
   red: "N site rate:  20.6\u00b1 0.7 mm/yr", blue: "N. America N plate rate: -8.72 mm/yr",
   black: "N daily & longer-period scatter:   1.0 &   0.7 mm", t: [11, 8.5, -13, 8.5, 11, -13]},
  {xd: LX, box: [LB[0], LB[1], 290, 538], yd: [-97.4, 8.2], yLab: [-50, 0], yMinor: [-90, -80, -70, -60, -40, -30, -20, -10],
   brown: two(TNBA_start, TNBA_E_brown, TNBA_E_brown2), grey: two(TNBA_start, TNBA_E_grey, TNBA_E_grey2),
   mon: monthly(2014.95, 2017.48, TNBA_E_monthly), fit: fitLine(2014.90, 2017.5, TNBA_E_fit),
   ylabel: "Reduced longitude (mm)", ylDx: -61,
   red: "E site rate: -44.3\u00b1 0.7 mm/yr", blue: "N. America E plate rate: -11.13 mm/yr",
   black: "E daily & longer-period scatter:   1.5 &   0.8 mm", t: [3, 6.5, -4, 6.5, 12, -10]},
  {xd: LX, box: [LB[0], LB[1], 546, 796], yd: [-22.1, 33.5], yLab: [-20, -10, 0, 10, 20, 30], yMinor: [-15, -5, 5, 15, 25],
   brown: series(TNBA_start, 3.5, TNBA_V_brown), grey: two(TNBA_start, TNBA_V_grey, TNBA_V_grey2),
   mon: monthly(2014.95, 2017.48, TNBA_V_monthly), fit: fitLine(2014.90, 2017.5, TNBA_V_fit),
   ylabel: "Reduced vertical (mm)", ylDx: -61, bottom: true,
   red: "V site rate:   1.0\u00b1 1.2 mm/yr", blue: "Predicted vertical rate is zero",
   black: "V daily & longer-period scatter:   4.7 &   4.0 mm", t: [12, 8, -14, 8, 12, -9.5]},
  {xd: RX, box: [RB[0], RB[1], 32, 285], yd: [-5.9, 19.05], yLab: [0, 10], yMinor: [-5, 5, 15],
   brown: two(TNNX_start, TNNX_N_brown, TNNX_N_brown2), grey: two(TNNX_start, TNNX_N_grey, TNNX_N_grey2),
   mon: monthly(2014.90, 2017.51, TNNX_N_monthly), fit: fitLine(2014.865, 2017.55, TNNX_N_fit),
   ylabel: "Reduced latitude (mm)", ylDx: -52, top: true, station: "TNNX", stDx: 17,
   red: "N site rate:   1.7\u00b1 1.5 mm/yr", blue: "N. America N plate rate: -3.25 mm/yr",
   black: "N daily & longer-period scatter:   1.0 &   5.3 mm", t: [12, 11, -12, 11, 12, -12]},
  {xd: RX, box: [RB[0], RB[1], 290, 538], yd: [-3.2, 18.1], yLab: [0, 10], yMinor: [5, 15],
   brown: two(TNNX_start, TNNX_E_brown, TNNX_E_brown2), grey: two(TNNX_start, TNNX_E_grey, TNNX_E_grey2),
   mon: monthly(2014.90, 2017.51, TNNX_E_monthly), fit: fitLine(2014.865, 2017.55, TNNX_E_fit),
   ylabel: "Reduced longitude (mm)", ylDx: -52,
   red: "E site rate:  -4.1\u00b1 1.0 mm/yr", blue: "N. America E plate rate: -8.48 mm/yr",
   black: "E daily & longer-period scatter:   1.0 &   3.2 mm", t: [12, 11.5, -12, 11.5, 12, -7.5]},
  {xd: RX, box: [RB[0], RB[1], 549, 797], yd: [-5.9, 33.3], yLab: [0, 10, 20, 30], yMinor: [-5, 5, 15, 25],
   brown: series(TNNX_start, 3.5, TNNX_V_brown), grey: two(TNNX_start, TNNX_V_grey, TNNX_V_grey2),
   mon: monthly(2014.90, 2017.51, TNNX_V_monthly), fit: fitLine(2014.865, 2017.55, TNNX_V_fit),
   ylabel: "Reduced vertical (mm)", ylDx: -52, bottom: true,
   red: "V site rate:   1.9\u00b1 1.6 mm/yr", blue: "Predicted vertical rate is zero",
   black: "V daily & longer-period scatter:   4.0 &   5.6 mm", t: [12, 10, -12, 10, 12, -9]}
];
const wrap = document.getElementById("wrap");
for (const p of panels) wrap.appendChild(panel(p));
</script></body></html>
